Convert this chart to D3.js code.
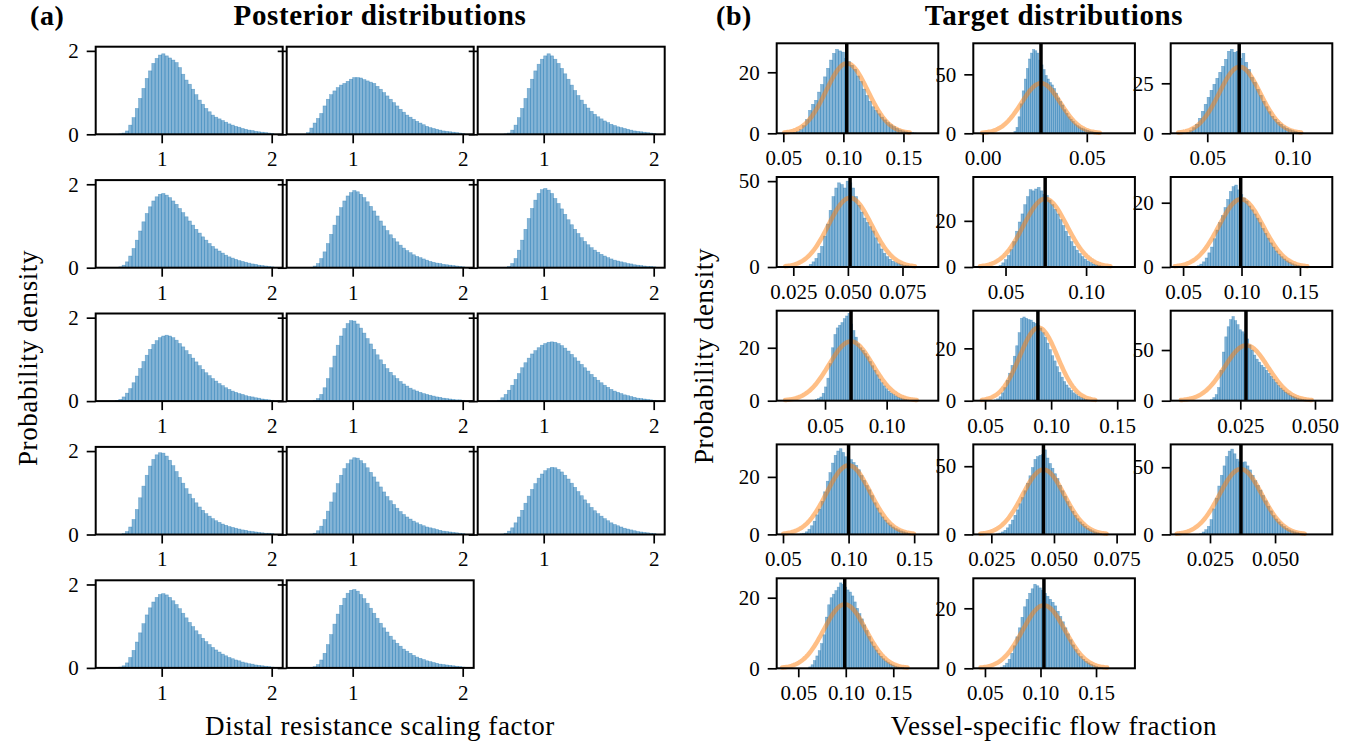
<!DOCTYPE html>
<html>
<head>
<meta charset="utf-8">
<script src="https://cdn.jsdelivr.net/npm/d3@7"></script>
<style>
body { margin: 0; background: #fff; }
text { font-family: "Liberation Serif", "DejaVu Serif", serif; fill: #000; }
</style>
</head>
<body>
<svg id="chart" width="1364" height="747"></svg>
<script>
// ---- data: posterior histograms (left), bins of equal width from leftBinStart
var leftBinStart = 0.58;
var leftBinWidth = 0.03;
var post01 = [0,0.01,0.03,0.08,0.22,0.40,0.62,0.86,1.10,1.34,1.52,1.70,1.82,1.90,1.93,1.88,1.83,1.78,1.72,1.60,1.44,1.30,1.20,1.08,0.95,0.82,0.72,0.62,0.54,0.46,0.41,0.37,0.33,0.29,0.25,0.22,0.19,0.17,0.14,0.12,0.10,0.09,0.07,0.06,0.05,0.04,0.03,0.02];
var post02 = [0.04,0.15,0.27,0.38,0.50,0.68,0.84,0.95,1.04,1.12,1.18,1.22,1.27,1.32,1.36,1.36,1.35,1.31,1.28,1.25,1.22,1.15,1.08,1.00,0.92,0.84,0.76,0.68,0.60,0.53,0.46,0.41,0.36,0.31,0.27,0.23,0.19,0.16,0.14,0.12,0.10,0.08,0.07,0.06,0.05,0.04,0.03,0.02];
var post03 = [0,0,0.01,0.03,0.10,0.22,0.40,0.62,0.86,1.10,1.32,1.52,1.68,1.80,1.88,1.93,1.88,1.80,1.70,1.58,1.45,1.32,1.18,1.05,0.93,0.82,0.72,0.63,0.55,0.48,0.42,0.37,0.32,0.28,0.24,0.21,0.18,0.16,0.14,0.12,0.10,0.08,0.07,0.06,0.05,0.04,0.03,0.02];
var post04 = [0,0.02,0.06,0.14,0.28,0.46,0.66,0.88,1.10,1.30,1.46,1.60,1.70,1.76,1.78,1.74,1.68,1.60,1.52,1.42,1.32,1.22,1.12,1.02,0.92,0.83,0.74,0.66,0.58,0.51,0.45,0.40,0.35,0.30,0.26,0.23,0.20,0.17,0.15,0.13,0.11,0.09,0.08,0.06,0.05,0.04,0.03,0.02];
var post05 = [0,0.01,0.04,0.10,0.22,0.38,0.58,0.80,1.02,1.24,1.44,1.60,1.72,1.80,1.85,1.82,1.76,1.68,1.58,1.47,1.36,1.24,1.12,1.00,0.89,0.79,0.70,0.62,0.54,0.47,0.41,0.36,0.31,0.27,0.24,0.21,0.18,0.15,0.13,0.11,0.10,0.08,0.07,0.06,0.05,0.04,0.03,0.02];
var post06 = [0,0,0.01,0.03,0.10,0.22,0.42,0.66,0.92,1.18,1.42,1.62,1.78,1.87,1.90,1.86,1.78,1.66,1.54,1.41,1.28,1.15,1.03,0.92,0.82,0.72,0.63,0.55,0.48,0.42,0.37,0.32,0.28,0.24,0.21,0.18,0.16,0.14,0.12,0.10,0.09,0.07,0.06,0.05,0.04,0.03,0.03,0.02];
var post07 = [0.01,0.04,0.10,0.19,0.30,0.44,0.60,0.78,0.95,1.10,1.24,1.36,1.45,1.52,1.56,1.58,1.56,1.52,1.46,1.38,1.30,1.21,1.12,1.03,0.94,0.85,0.76,0.68,0.61,0.54,0.48,0.42,0.37,0.32,0.28,0.24,0.21,0.18,0.16,0.13,0.11,0.10,0.08,0.07,0.05,0.04,0.03,0.02];
var post08 = [0,0,0.02,0.06,0.16,0.32,0.54,0.80,1.08,1.34,1.56,1.74,1.86,1.93,1.92,1.85,1.75,1.63,1.50,1.37,1.24,1.11,0.99,0.88,0.78,0.69,0.61,0.54,0.47,0.41,0.36,0.31,0.27,0.24,0.21,0.18,0.16,0.14,0.12,0.10,0.09,0.07,0.06,0.05,0.04,0.03,0.03,0.02];
var post09 = [0.02,0.08,0.16,0.26,0.38,0.52,0.66,0.80,0.92,1.03,1.13,1.21,1.28,1.34,1.38,1.41,1.42,1.41,1.38,1.33,1.27,1.20,1.12,1.04,0.96,0.88,0.80,0.72,0.64,0.57,0.50,0.44,0.38,0.33,0.28,0.24,0.21,0.18,0.15,0.13,0.11,0.09,0.07,0.06,0.05,0.04,0.03,0.02];
var post10 = [0,0,0.02,0.07,0.18,0.36,0.60,0.88,1.16,1.42,1.64,1.80,1.91,1.96,1.95,1.88,1.78,1.65,1.51,1.37,1.23,1.10,0.97,0.86,0.76,0.66,0.58,0.50,0.44,0.38,0.33,0.29,0.25,0.22,0.19,0.17,0.15,0.13,0.11,0.10,0.08,0.07,0.06,0.05,0.04,0.03,0.03,0.02];
var post11 = [0,0.01,0.03,0.09,0.20,0.36,0.56,0.78,1.00,1.22,1.42,1.58,1.70,1.79,1.84,1.83,1.77,1.70,1.60,1.49,1.38,1.26,1.14,1.02,0.91,0.81,0.72,0.63,0.55,0.48,0.42,0.37,0.32,0.28,0.24,0.21,0.18,0.16,0.14,0.12,0.10,0.08,0.07,0.06,0.05,0.04,0.03,0.02];
var post12 = [0,0.01,0.03,0.08,0.16,0.28,0.42,0.58,0.75,0.92,1.08,1.22,1.35,1.45,1.53,1.58,1.61,1.60,1.56,1.50,1.42,1.33,1.23,1.13,1.03,0.93,0.83,0.74,0.65,0.57,0.50,0.44,0.38,0.33,0.28,0.24,0.21,0.18,0.15,0.13,0.11,0.09,0.07,0.06,0.05,0.04,0.03,0.02];
var post13 = [0,0.02,0.05,0.12,0.25,0.42,0.62,0.84,1.06,1.27,1.44,1.58,1.69,1.76,1.78,1.75,1.69,1.61,1.52,1.42,1.31,1.20,1.09,0.99,0.89,0.80,0.71,0.63,0.56,0.49,0.43,0.38,0.33,0.29,0.25,0.22,0.19,0.17,0.14,0.12,0.10,0.09,0.07,0.06,0.05,0.04,0.03,0.02];
var post14 = [0,0.01,0.03,0.08,0.19,0.35,0.56,0.80,1.05,1.29,1.50,1.67,1.79,1.86,1.88,1.84,1.76,1.66,1.55,1.43,1.31,1.19,1.07,0.96,0.86,0.76,0.67,0.59,0.52,0.45,0.40,0.35,0.30,0.26,0.23,0.20,0.17,0.15,0.13,0.11,0.09,0.08,0.07,0.06,0.05,0.04,0.03,0.02];
var posteriors = [post01, post02, post03, post04, post05, post06, post07, post08, post09, post10, post11, post12, post13, post14];
var leftXTicks = [1, 2];
var leftYTicks = [0, 2];

// ---- data: target histograms (right)
var tgt01 = [0.1,0.3,0.6,1.2,2.5,4.5,7.5,9.5,10.8,13.5,16.0,18.5,21.3,24.0,26.2,27.5,27.0,26.6,24.5,23.5,22.3,21.0,18.8,17.0,14.5,12.4,10.5,8.7,7.5,6.4,5.3,4.4,3.5,2.8,2.2,1.6,1.1,0.8,0.5,0.3,0.2,0.1];
var tgt02 = [1.5,5,14,25,36,46,55,63,68,71,70,68,62,58,54,49,46,43,41,38,34,30,27,24,20,17,14,12,10,8,6.5,5.5,4.5,3.8,3,2.4,1.9,1.4,1.0,0.7,0.4];
var tgt03 = [0.5,1.3,2.8,4.5,7.5,11,14.5,18,21.5,24.5,27.5,30.5,33.5,37,41,42,40.5,41,37.5,40,35.5,32,28,25.5,22,19,16,13.3,10.8,8.5,7,5.5,4.5,3.3,2.5,1.8,1.3,0.9,0.5,0.3];
var tgt04 = [0.5,1.5,3,5,8,12,18,25,33,41,46,49,48,46,50,49,46,41,36,32,28.5,26,23.5,21,17,13.5,10.5,8,6,4.5,3.3,2.5,1.9,1.4,1.0,0.8,0.6,0.4,0.3,0.2];
var tgt05 = [0.7,1.8,3.2,5,7.5,11,15.5,19.5,23,27,30.5,33.5,33,33.8,34.5,33,31.5,31,29,27,25,23,20.5,18,15.5,13.3,11,9,7.3,5.8,4.5,3.4,2.6,1.9,1.3,0.9,0.6,0.4,0.2];
var tgt06 = [0.4,0.9,1.6,2.8,4.4,6.2,8.8,11.5,13.8,16,18.5,21,23.5,25,25.5,24,22.5,21.5,20.5,19,17.8,16.5,15.2,13.8,12,10.5,9,7.5,6.2,5,4,3.2,2.5,1.9,1.4,1,0.7,0.5,0.3,0.2];
var tgt07 = [0.4,0.8,1.4,2.8,5.2,8.5,14,20,25,27.5,28.5,29.5,31,32,33,29,26.5,24,21.5,20,19,17.8,16.6,14.8,13.2,11.5,9.8,8.2,6.8,5.6,4.5,3.6,2.9,2.3,1.8,1.3,1.0,0.7,0.5,0.3];
var tgt08 = [0.3,0.7,1.5,3,5,7.8,10.5,13.5,17,21,26,31.5,32,31.5,31,30.8,30,29.5,28.8,27.8,26,24.2,22,19.5,17.2,15.2,13,10.8,9,7.3,6,4.9,3.9,3,2.3,1.7,1.2,0.8,0.5,0.3];
var tgt09 = [1,3,6,13,30,48,63,73,80,83,79,75,70,68,66,61,55,50,45,41,38,35,33,30,27,24,21,18,15,12.5,10.5,8.5,7,5.5,4.3,3.3,2.5,1.8,1.2,0.8];
var tgt10 = [0.2,0.4,0.9,1.8,3,4.6,6.8,8.8,11.5,14.8,18.5,21.5,24.8,27.5,29,29.8,28.5,27,26.5,26,25,24,22.5,20.5,18.8,17,15.5,13.5,11,9.2,7.5,6.1,5,4,3.3,2.6,2,1.6,1.2,0.9,0.6,0.4];
var tgt11 = [0.5,1,1.8,3,4.8,7.2,10.5,14,18,22.5,27,32,37.5,43,49,55,57,58,58.5,62,56,52,48.5,44.5,41,36,32,28,24,20.5,17,14,11.5,9.2,7.5,6,4.6,3.5,2.6,1.8,1.2,0.7];
var tgt12 = [0.5,1.8,3.5,6,11,19,27,36,44,51,58,62,63.5,60,56,54,53.5,54,51,48,44,40,36.5,33,29,25,21,17.5,14,11.5,9.3,7.3,5.8,4.5,3.4,2.6,1.9,1.3,0.9,0.5];
var tgt13 = [0.4,1,2.2,3.5,5,7,9.5,14.5,18,20,21,22,23,24.2,23.8,23,22.2,21.6,20.5,18.8,17,15.5,14,12.3,10.7,9,7.5,6.3,5.2,4.2,3.4,2.7,2.1,1.6,1.2,0.9,0.6,0.4,0.3,0.2];
var tgt14 = [0.4,0.9,1.7,3,5,7.5,10.5,13.5,17,20.5,23,25,26.5,28,27.5,26.8,26,25,24,23,22,20.8,19,17.3,15.5,13.5,11.5,9.5,7.8,6.2,4.9,3.9,3,2.3,1.8,1.3,0.9,0.6,0.4,0.2];
var targets = [tgt01, tgt02, tgt03, tgt04, tgt05, tgt06, tgt07, tgt08, tgt09, tgt10, tgt11, tgt12, tgt13, tgt14];
var tgtBinStart = [0.056, 0.015, 0.038, 0.031, 0.046, 0.062, 0.042, 0.057, 0.015, 0.063, 0.027, 0.021, 0.061, 0.064];
var tgtBinWidth = [0.0025, 0.001, 0.0017, 0.0013, 0.0017, 0.0023, 0.0019, 0.0018, 0.0008, 0.002, 0.001, 0.001, 0.0025, 0.0023];
// target normal distribution (mean, sd) and the reference value (black line)
var tgtMean = [0.103, 0.028, 0.069, 0.051, 0.0746, 0.0996, 0.071, 0.0905, 0.027, 0.100, 0.0458, 0.0368, 0.099, 0.103];
var tgtSd = [0.0174, 0.0094, 0.012, 0.0099, 0.0135, 0.0189, 0.0178, 0.0143, 0.0073, 0.0166, 0.0084, 0.0082, 0.022, 0.019];
var refValue = [0.1028, 0.028, 0.0687, 0.051, 0.0746, 0.0993, 0.0711, 0.090, 0.0269, 0.100, 0.0458, 0.0369, 0.0989, 0.1031];
var tgtXDomain = [[0.0445,0.179],[-0.0045,0.0731],[0.0286,0.1232],[0.0174,0.0914],[0.030,0.1303],[0.0394,0.1777],[0.0108,0.1419],[0.0411,0.1634],[0.0017,0.0558],[0.0452,0.1684],[0.0178,0.0823],[0.0099,0.072],[0.0273,0.1974],[0.0395,0.185]];
var tgtYMax = [29.5, 76.3, 45, 52.4, 39, 28, 34, 34.4, 88.8, 31.3, 66, 67, 25.5, 30];
var tgtXTicks = [[0.05,0.10,0.15],[0,0.05],[0.05,0.10],[0.025,0.05,0.075],[0.05,0.10],[0.05,0.10,0.15],[0.05,0.10],[0.05,0.10,0.15],[0.025,0.05],[0.05,0.10,0.15],[0.025,0.05,0.075],[0.025,0.05],[0.05,0.10,0.15],[0.05,0.10,0.15]];
var tgtYTicks = [[0,20],[0,50],[0,25],[0,50],[0,20],[0,20],[0,20],[0,20],[0,50],[0,20],[0,50],[0,50],[0,20],[0,20]];
var tgtXFormat = ['.2f','.2f','.2f','.3f','.2f','.2f','.2f','.2f','.3f','.2f','.3f','.3f','.2f','.2f'];

// ---- layout
var leftColX = [95.7, 286.7, 477.7], leftW = 187;
var leftRowY = [46.7, 180.1, 313.5, 446.9, 580.3], leftH = 87.6;
var rightColX = [776.7, 973.3, 1170.7], rightW = 161.6;
var rightRowY = [43.3, 177, 310.7, 444.4, 578.3], rightH = 90;

var svg = d3.select('#chart');

function styleAxis(g) {
    g.select('.domain').remove();
    g.selectAll('.tick line').attr('stroke', '#000').attr('stroke-width', 1.7);
    g.selectAll('.tick text').style('font-size', '21px');
}

function drawBars(g, x, y, start, width, values) {
    g.selectAll('rect.bar').data(values).enter().append('rect')
        .attr('class', 'bar')
        .attr('x', function(d, i) { return x(start + i * width); })
        .attr('width', function(d, i) { return x(start + (i + 1) * width) - x(start + i * width); })
        .attr('y', function(d) { return y(d); })
        .attr('height', function(d) { return y(0) - y(d); })
        .attr('fill', '#1f77b4').attr('fill-opacity', 0.55)
        .attr('stroke', '#1f77b4').attr('stroke-opacity', 0.5).attr('stroke-width', 0.6);
}

function drawFrame(g, w, h) {
    g.append('rect').attr('width', w).attr('height', h)
        .attr('fill', 'none').attr('stroke', '#000').attr('stroke-width', 2);
}

// left panel: posterior distributions
var lx = d3.scaleLinear().domain([0.4, 2.1]).range([0, leftW]);
var ly = d3.scaleLinear().domain([0, 2.1]).range([leftH, 0]);
posteriors.forEach(function(vals, i) {
    var col = i % 3, row = Math.floor(i / 3);
    var g = svg.append('g').attr('transform', 'translate(' + leftColX[col] + ',' + leftRowY[row] + ')');
    drawBars(g, lx, ly, leftBinStart, leftBinWidth, vals);
    g.append('g').attr('transform', 'translate(0,' + leftH + ')')
        .call(d3.axisBottom(lx).tickValues(leftXTicks).tickSize(9).tickPadding(8).tickFormat(d3.format('d')))
        .call(styleAxis);
    g.append('g')
        .call(d3.axisLeft(ly).tickValues(leftYTicks).tickSize(9).tickPadding(8)
            .tickFormat(col === 0 ? d3.format('d') : function() { return ''; }))
        .call(styleAxis);
    drawFrame(g, leftW, leftH);
});

// right panel: target distributions
targets.forEach(function(vals, i) {
    var col = i % 3, row = Math.floor(i / 3);
    var x = d3.scaleLinear().domain(tgtXDomain[i]).range([0, rightW]);
    var y = d3.scaleLinear().domain([0, tgtYMax[i]]).range([rightH, 0]);
    var g = svg.append('g').attr('transform', 'translate(' + rightColX[col] + ',' + rightRowY[row] + ')');
    drawBars(g, x, y, tgtBinStart[i], tgtBinWidth[i], vals);

    var mu = tgtMean[i], sd = tgtSd[i];
    var xs = d3.range(121).map(function(k) { return mu - 3 * sd + 6 * sd * k / 120; });
    var line = d3.line()
        .x(function(v) { return x(v); })
        .y(function(v) { return y(Math.exp(-0.5 * Math.pow((v - mu) / sd, 2)) / (sd * Math.sqrt(2 * Math.PI))); });
    g.append('path').datum(xs).attr('d', line)
        .attr('fill', 'none').attr('stroke', '#ff7f0e').attr('stroke-opacity', 0.5)
        .attr('stroke-width', 4.5).attr('stroke-linecap', 'round');

    g.append('line')
        .attr('x1', x(refValue[i])).attr('x2', x(refValue[i]))
        .attr('y1', 0).attr('y2', rightH)
        .attr('stroke', '#000').attr('stroke-width', 3.5);

    g.append('g').attr('transform', 'translate(0,' + rightH + ')')
        .call(d3.axisBottom(x).tickValues(tgtXTicks[i]).tickSize(9).tickPadding(8).tickFormat(d3.format(tgtXFormat[i])))
        .call(styleAxis);
    g.append('g')
        .call(d3.axisLeft(y).tickValues(tgtYTicks[i]).tickSize(9).tickPadding(8).tickFormat(d3.format('d')))
        .call(styleAxis);
    drawFrame(g, rightW, rightH);
});

// titles and labels
function bigText(x, y, str, size, bold, anchor) {
    return svg.append('text').attr('x', x).attr('y', y)
        .attr('text-anchor', anchor || 'start')
        .style('font-size', size + 'px').style('font-weight', bold ? 'bold' : 'normal')
        .style('letter-spacing', '0.6px').text(str);
}
bigText(30, 25, '(a)', 28, true);
bigText(716, 25, '(b)', 28, true);
bigText(380, 25, 'Posterior distributions', 29, true, 'middle');
bigText(1054, 25, 'Target distributions', 29, true, 'middle');
bigText(380, 735, 'Distal resistance scaling factor', 27, false, 'middle');
bigText(1054, 735, 'Vessel-specific flow fraction', 27, false, 'middle');
svg.append('text').attr('transform', 'translate(37,358) rotate(-90)').attr('text-anchor', 'middle')
    .style('font-size', '27px').style('letter-spacing', '0.6px').text('Probability density');
svg.append('text').attr('transform', 'translate(713,356) rotate(-90)').attr('text-anchor', 'middle')
    .style('font-size', '27px').style('letter-spacing', '0.6px').text('Probability density');
</script>
</body>
</html>
